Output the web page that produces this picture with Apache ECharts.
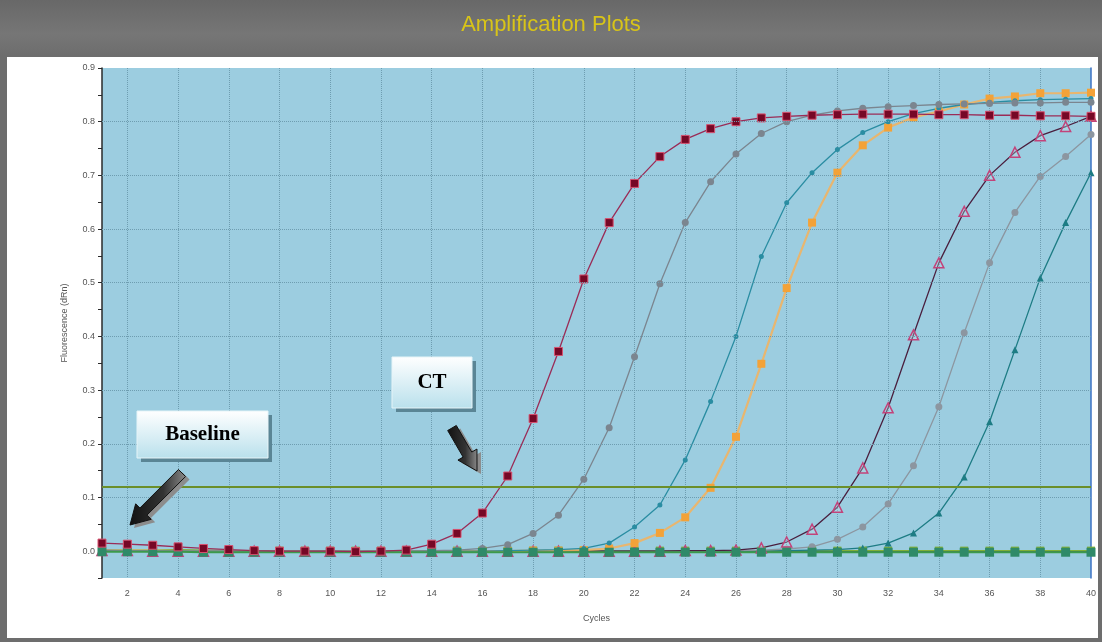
<!DOCTYPE html>
<html>
<head>
<meta charset="utf-8">
<script src="https://cdn.jsdelivr.net/npm/echarts@6/dist/echarts.min.js"></script>
<style>
html,body{margin:0;padding:0;}
#wrap{position:relative;width:1102px;height:642px;background:linear-gradient(#686868 0px,#767676 34px,#6d6d6d 56px,#6d6d6d 642px);overflow:hidden;}
#panel{position:absolute;left:7px;top:57px;width:1091px;height:581px;background:#fff;}
#main{position:absolute;left:0;top:0;width:1102px;height:642px;}
</style>
</head>
<body>
<div id="wrap"><div id="panel"></div><div id="main"></div></div>
<script>
// cycles on the x axis
var cycles = [1,2,3,4,5,6,7,8,9,10,11,12,13,14,15,16,17,18,19,20,
              21,22,23,24,25,26,27,28,29,30,31,32,33,34,35,36,37,38,39,40];

// fluorescence (dRn), one value per cycle
var sampleRed = [0.015,0.013,0.011,0.008,0.005,0.003,0.001,0.000,0.000,0.000,
                 -0.001,0.000,0.002,0.013,0.033,0.071,0.140,0.247,0.372,0.507,
                 0.612,0.685,0.735,0.767,0.787,0.800,0.807,0.810,0.812,0.813,
                 0.814,0.814,0.814,0.813,0.813,0.812,0.812,0.811,0.811,0.810];
var sampleGray = [0.002,0.001,0.001,0.000,0.000,0.000,0.000,0.000,0.000,0.000,
                  0.000,0.000,0.000,0.001,0.002,0.005,0.012,0.033,0.067,0.134,
                  0.230,0.362,0.498,0.612,0.688,0.740,0.778,0.800,0.812,0.820,
                  0.825,0.828,0.830,0.832,0.833,0.834,0.835,0.835,0.836,0.836];
var sampleTeal = [0.001,0.001,0.000,0.000,0.000,0.000,0.000,0.000,0.000,0.000,
                  0.000,0.000,0.000,0.000,0.000,0.000,0.001,0.002,0.003,0.005,
                  0.015,0.045,0.086,0.170,0.279,0.400,0.549,0.649,0.705,0.748,
                  0.780,0.800,0.815,0.825,0.832,0.836,0.839,0.841,0.842,0.843];
var sampleOrange = [0.001,0.001,0.001,0.000,0.000,0.000,0.000,0.000,0.000,0.000,
                    0.000,0.000,0.000,0.000,0.000,0.000,0.000,0.001,0.001,0.002,
                    0.005,0.015,0.034,0.063,0.118,0.213,0.349,0.490,0.612,0.705,
                    0.756,0.789,0.808,0.819,0.832,0.843,0.847,0.853,0.853,0.854];
var samplePurple = [0.001,0.001,0.000,0.000,0.000,0.000,0.000,0.000,0.000,0.000,
                    0.000,0.000,0.000,0.000,0.000,0.000,0.000,0.000,0.000,0.000,
                    0.000,0.000,0.000,0.001,0.001,0.002,0.006,0.017,0.041,0.082,
                    0.155,0.267,0.403,0.537,0.633,0.700,0.743,0.774,0.791,0.810];
var sampleSilver = [0.001,0.001,0.000,0.000,0.000,0.000,0.000,0.000,0.000,0.000,
                    0.000,0.000,0.000,0.000,0.000,0.000,0.000,0.000,0.000,0.000,
                    0.000,0.000,0.000,0.000,0.000,0.001,0.002,0.004,0.008,0.022,
                    0.045,0.088,0.159,0.269,0.407,0.537,0.631,0.698,0.735,0.776];
var sampleDarkTeal = [0.000,0.000,0.000,0.000,0.000,0.000,0.000,0.000,0.000,0.000,
                      0.000,0.000,0.000,0.000,0.000,0.000,0.000,0.000,0.000,0.000,
                      0.000,0.000,0.000,0.000,0.000,0.000,0.000,0.001,0.002,0.003,
                      0.006,0.015,0.034,0.071,0.138,0.241,0.375,0.509,0.612,0.705];
var ntcOlive = [0.002,0.002,0.002,0.003,0.002,0.001,0.001,0.001,0.001,0.001,
                0.001,0.001,0.001,0.001,0.001,0.001,0.001,0.001,0.001,0.001,
                0.001,0.001,0.001,0.001,0.001,0.001,0.001,0.001,0.001,0.001,
                0.001,0.001,0.001,0.001,0.001,0.001,0.001,0.001,0.001,0.001];
var ntcGreen = [-0.001,-0.001,-0.001,-0.001,-0.002,-0.002,-0.002,-0.002,-0.002,-0.002,
                -0.002,-0.002,-0.002,-0.002,-0.002,-0.002,-0.002,-0.002,-0.002,-0.002,
                -0.002,-0.002,-0.002,-0.002,-0.002,-0.002,-0.002,-0.002,-0.002,-0.002,
                -0.002,-0.002,-0.002,-0.002,-0.002,-0.002,-0.002,-0.002,-0.002,-0.002];

var threshold = 0.123;
var gridLevels = [0.1,0.2,0.3,0.4,0.5,0.6,0.7,0.8];

var myChart = echarts.init(document.getElementById('main'));

function curve(name, data, color, lineColor, symbol, size, extra) {
    var s = {
        name: name,
        type: 'line',
        data: data,
        symbol: symbol,
        symbolSize: size,
        showAllSymbol: true,
        animation: false,
        lineStyle: { color: lineColor, width: 1.3 },
        itemStyle: { color: color }
    };
    if (extra) {
        for (var k in extra) s[k] = extra[k];
    }
    return s;
}

// arrow polygon from tail to tip
function arrowPts(x1, y1, x2, y2) {
    var dx = x2 - x1, dy = y2 - y1;
    var L = Math.sqrt(dx * dx + dy * dy);
    var ux = dx / L, uy = dy / L, nx = -uy, ny = ux;
    var sw = 5, hw = 11, hl = 19;
    var local = [[0, -sw], [L - hl, -sw], [L - hl, -hw], [L, 0], [L - hl, hw], [L - hl, sw], [0, sw]];
    return local.map(function (p) {
        return [x1 + ux * p[0] + nx * p[1], y1 + uy * p[0] + ny * p[1]];
    });
}

function labelBox(x, y, w, h, txt) {
    return [{
        type: 'rect', shape: { x: x + 4, y: y + 4, width: w, height: h },
        style: { fill: '#5a8595' }, z: 100
    }, {
        type: 'rect', shape: { x: x, y: y, width: w, height: h },
        style: {
            fill: new echarts.graphic.LinearGradient(0, 0, 0, 1, [
                { offset: 0, color: '#ffffff' }, { offset: 1, color: '#b9e0ec' }]),
            stroke: '#e6f4f8', lineWidth: 1
        }, z: 101
    }, {
        type: 'text', x: x + w / 2, y: y + h / 2,
        style: {
            text: txt, fill: '#000', font: 'bold 21px "Liberation Serif", "DejaVu Serif", serif',
            textAlign: 'center', textVerticalAlign: 'middle'
        }, z: 102
    }];
}

function arrow(x1, y1, x2, y2) {
    return [{
        type: 'polygon', shape: { points: arrowPts(x1 + 4, y1 + 3, x2 + 4, y2 + 3) },
        style: { fill: '#8c8c8c' }, z: 100
    }, {
        type: 'polygon', shape: { points: arrowPts(x1, y1, x2, y2) },
        style: {
            fill: new echarts.graphic.LinearGradient(0, 0, 1, 0, [
                { offset: 0, color: '#111111' }, { offset: 0.6, color: '#333333' }, { offset: 1, color: '#8a8a8a' }]),
            stroke: '#111', lineWidth: 1
        }, z: 101
    }];
}

var gridMarks = gridLevels.map(function (v) {
    return { yAxis: v, lineStyle: { color: '#6e9db0', type: 'dotted', width: 1 } };
});
gridMarks.push({ yAxis: threshold, lineStyle: { color: '#6b8f2a', type: 'solid', width: 2 } });

var option = {
    backgroundColor: 'transparent',
    animation: false,
    title: {
        text: 'Amplification Plots',
        left: 'center',
        top: 9,
        textStyle: { color: '#d8c418', fontSize: 22, fontWeight: 'normal', fontFamily: 'Liberation Sans, Arial, sans-serif' }
    },
    grid: {
        left: 102, right: 11, top: 68, bottom: 64,
        show: true, backgroundColor: '#9ccde0', borderWidth: 0
    },
    xAxis: [{
        type: 'category',
        boundaryGap: false,
        data: cycles,
        name: 'Cycles',
        nameLocation: 'middle',
        nameGap: 36,
        nameTextStyle: { color: '#555', fontSize: 9, fontFamily: 'Liberation Sans' },
        axisLine: { lineStyle: { color: '#2a2a2a', width: 1.5 } },
        axisTick: { show: true, interval: 0, length: 4, lineStyle: { color: '#2a2a2a' } },
        axisLabel: {
            interval: function (i, v) { return Number(v) % 2 === 0; },
            color: '#555', fontSize: 9, margin: 11, fontFamily: 'Liberation Sans'
        },
        splitLine: {
            show: true,
            interval: function (i, v) { return Number(v) % 2 === 0 && Number(v) < 40; },
            lineStyle: { color: '#6e9db0', type: 'dotted', width: 1 }
        }
    }],
    yAxis: [{
        type: 'value',
        min: -0.05, max: 0.9, interval: 0.05,
        name: 'Fluorescence (dRn)',
        nameLocation: 'middle',
        nameRotate: 90,
        nameGap: 33,
        nameTextStyle: { color: '#555', fontSize: 9, fontFamily: 'Liberation Sans' },
        axisLine: { show: true, lineStyle: { color: '#2a2a2a', width: 1.5 } },
        axisTick: { show: true, length: 4, lineStyle: { color: '#2a2a2a' } },
        axisLabel: {
            color: '#555', fontSize: 9, margin: 7, fontFamily: 'Liberation Sans',
            formatter: function (v) {
                return Math.abs(Math.round(v * 10) - v * 10) < 1e-6 ? v.toFixed(1) : '';
            }
        },
        splitLine: { show: false }
    }, {
        type: 'value',
        position: 'right',
        min: -0.05, max: 0.9,
        axisLine: { show: true, lineStyle: { color: '#3b72c4', width: 1.5 } },
        axisTick: { show: false },
        axisLabel: { show: false },
        splitLine: { show: false }
    }],
    series: [
        curve('NTC 1', ntcOlive, '#7fae38', '#7fae38', 'rect', 8, {
            markLine: { silent: true, symbol: 'none', label: { show: false }, data: gridMarks }
        }),
        curve('Sample 7', sampleDarkTeal, '#1d7c84', '#1d7c84', 'triangle', 7),
        curve('Sample 6', sampleSilver, '#8c96a0', '#8c96a0', 'circle', 7),
        curve('Sample 5', samplePurple, 'rgba(200,230,240,0.3)', '#4a1f3e', 'triangle', 10, {
            itemStyle: { color: 'rgba(200,230,240,0.3)', borderColor: '#c2437a', borderWidth: 1.5 }
        }),
        curve('Sample 4', sampleOrange, '#f3a238', 'rgba(246,178,90,0.85)', 'rect', 8, {
            lineStyle: { color: 'rgba(246,178,90,0.85)', width: 2.2 }
        }),
        curve('Sample 3', sampleTeal, '#2a8da2', '#2a8da2', 'circle', 5),
        curve('Sample 2', sampleGray, '#7b858f', '#7b858f', 'circle', 7),
        curve('NTC 2', ntcGreen, '#2f8a68', '#3c9a4c', 'rect', 9, {
            lineStyle: { color: '#3c9a4c', width: 2 }
        }),
        curve('Sample 1', sampleRed, '#760826', '#9a2c57', 'rect', 8, {
            itemStyle: { color: '#760826', borderColor: '#d8506e', borderWidth: 1 }
        })
    ],
    graphic: [].concat(
        labelBox(137, 411, 131, 47, 'Baseline'),
        labelBox(392, 357, 80, 51, 'CT'),
        arrow(182, 473, 130, 525),
        arrow(452, 428, 477, 471)
    )
};

myChart.setOption(option);
</script>
</body>
</html>
